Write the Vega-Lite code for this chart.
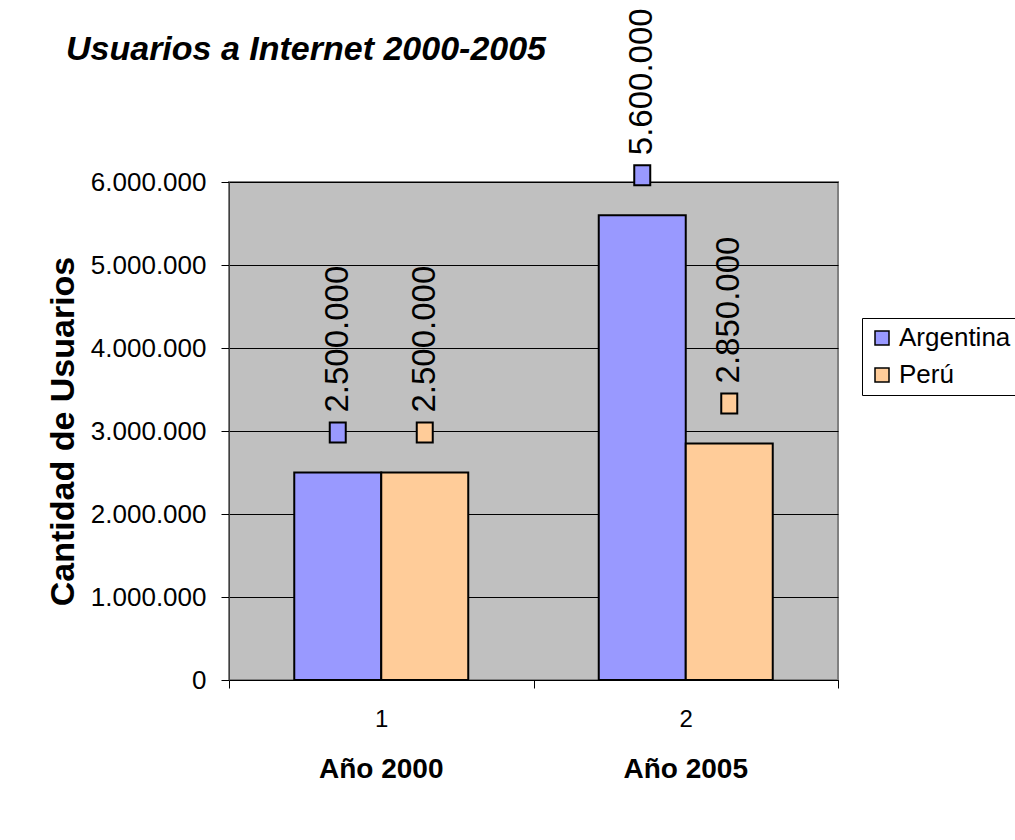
{
  "$schema": "https://vega.github.io/schema/vega-lite/v6.json",
  "autosize": "none",
  "width": 609,
  "height": 498,
  "padding": {"left": 229, "top": 182, "right": 177, "bottom": 160},
  "background": "white",
  "title": {
    "text": "Usuarios a Internet 2000-2005",
    "anchor": "start",
    "frame": "group",
    "fontSize": 34,
    "fontStyle": "italic",
    "fontWeight": "bold",
    "color": "black",
    "dx": -163,
    "dy": 63
  },
  "config": {
    "font": "Liberation Sans",
    "view": {"fill": "#C0C0C0", "stroke": "#808080", "strokeWidth": 2},
    "locale": {"number": {"decimal": ",", "thousands": ".", "grouping": [3], "currency": ["", ""]}}
  },
  "data": {
    "values": [
      {"anio": "Año 2000", "pais": "Argentina", "usuarios": 2500000},
      {"anio": "Año 2000", "pais": "Perú", "usuarios": 2500000},
      {"anio": "Año 2005", "pais": "Argentina", "usuarios": 5600000},
      {"anio": "Año 2005", "pais": "Perú", "usuarios": 2850000}
    ]
  },
  "resolve": {"axis": {"x": "independent"}},
  "layer": [
    {
      "mark": {"type": "bar", "stroke": "black", "strokeWidth": 2},
      "encoding": {
        "x": {
          "field": "anio", "type": "nominal",
          "scale": {"paddingInner": 0, "paddingOuter": 0},
          "axis": {
            "orient": "bottom",
            "title": null,
            "labelAngle": 0,
            "labelExpr": "datum.value == 'Año 2000' ? '1' : datum.value == 'Año 2005' ? '2' : ''",
            "labelFontSize": 24,
            "labelColor": "black",
            "labelPadding": 19,
            "tickBand": "extent",
            "tickSize": 8,
            "tickColor": "black",
            "domainColor": "black",
            "domainWidth": 1
          }
        },
        "xOffset": {"field": "pais", "type": "nominal", "scale": {"paddingInner": 0, "paddingOuter": 0.75}},
        "y": {
          "field": "usuarios", "type": "quantitative",
          "scale": {"domain": [0, 6000000], "nice": false},
          "axis": {
            "title": "Cantidad de Usuarios",
            "titleFontSize": 34,
            "titleFontWeight": "bold",
            "titleColor": "black",
            "titlePadding": 10,
            "values": [0, 1000000, 2000000, 3000000, 4000000, 5000000, 6000000],
            "format": ",d",
            "labelFontSize": 26,
            "labelColor": "black",
            "labelPadding": 15,
            "tickSize": 8,
            "tickColor": "black",
            "domainColor": "#404040",
            "grid": true,
            "gridColor": "black",
            "gridWidth": 1
          }
        },
        "color": {
          "field": "pais", "type": "nominal",
          "scale": {"domain": ["Argentina", "Perú"], "range": ["#9999FF", "#FFCC99"]},
          "legend": {
            "title": null,
            "orient": "none",
            "legendX": 633,
            "legendY": 136,
            "strokeColor": "black",
            "fillColor": "white",
            "padding": 7,
            "labelFontSize": 26,
            "labelColor": "black",
            "labelOffset": 4,
            "symbolType": "square",
            "symbolSize": 196,
            "symbolStrokeColor": "black",
            "symbolStrokeWidth": 1.5,
            "rowPadding": 11
          }
        }
      }
    },
    {
      "mark": {"type": "point", "filled": true, "opacity": 1, "stroke": "black", "strokeWidth": 2, "shape": "M-0.8,-1H0.8V1H-0.8Z", "size": 400, "yOffset": -40},
      "encoding": {
        "x": {"field": "anio", "type": "nominal", "axis": null},
        "xOffset": {"field": "pais", "type": "nominal"},
        "y": {"field": "usuarios", "type": "quantitative"},
        "color": {"field": "pais", "type": "nominal"}
      }
    },
    {
      "mark": {"type": "text", "angle": 270, "align": "left", "baseline": "middle", "fontSize": 33, "color": "black", "yOffset": -60},
      "encoding": {
        "x": {"field": "anio", "type": "nominal", "axis": null},
        "xOffset": {"field": "pais", "type": "nominal"},
        "y": {"field": "usuarios", "type": "quantitative"},
        "text": {"field": "usuarios", "type": "quantitative", "format": ",d"}
      }
    },
    {
      "mark": {"type": "bar", "opacity": 0},
      "encoding": {
        "x": {
          "field": "anio", "type": "nominal",
          "axis": {
            "orient": "bottom",
            "title": null,
            "labelAngle": 0,
            "labelFontSize": 28,
            "labelFontWeight": "bold",
            "labelColor": "black",
            "labelPadding": 75,
            "ticks": false,
            "tickSize": 0,
            "domain": false,
            "grid": false
          }
        },
        "xOffset": {"field": "pais", "type": "nominal"},
        "y": {"field": "usuarios", "type": "quantitative"}
      }
    }
  ]
}
